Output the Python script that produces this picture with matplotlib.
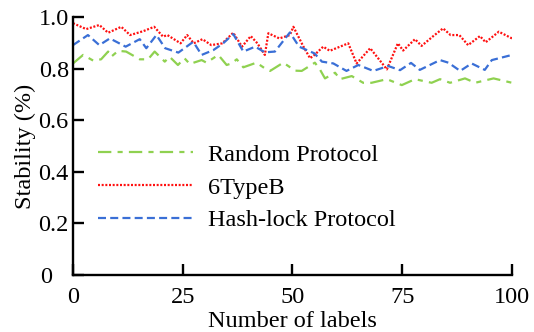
import numpy as np
import matplotlib.pyplot as plt
from matplotlib.transforms import ScaledTranslation

# Stability vs. number of labels for three protocols
x_random = [0, 2.3, 4.6, 6.4, 8, 8.7, 10.3, 12.1, 15.2, 17.1, 18.6, 20.9, 22, 23.9, 25.4,
            26.6, 29.3, 30.4, 33.1, 35, 36.1, 37.3, 38.8, 41.8, 43.7, 44.9, 47.9, 50.6,
            52.1, 55.1, 56.3, 57.4, 59.7, 60.8, 63.5, 66.1, 68, 71.5, 74.9, 77.9, 81.7,
            83.6, 85.9, 89.3, 91.6, 95.8, 100]
y_random = [0.820, 0.853, 0.831, 0.836, 0.866, 0.846, 0.869, 0.866, 0.836, 0.836, 0.866,
            0.827, 0.846, 0.814, 0.840, 0.818, 0.833, 0.823, 0.853, 0.814, 0.820, 0.836,
            0.805, 0.823, 0.801, 0.791, 0.823, 0.792, 0.791, 0.823, 0.795, 0.762, 0.784,
            0.759, 0.771, 0.745, 0.745, 0.759, 0.736, 0.759, 0.745, 0.759, 0.745, 0.762,
            0.745, 0.762, 0.745]

x_6typeb = [0, 3, 6, 8, 11, 13, 16, 18.5, 20.5, 21.5, 24.5, 26, 27.5, 29.5, 31.5, 34, 36.5,
            38.5, 40.5, 42, 43.7, 44.5, 47, 49.4, 50.2, 52.5, 54, 55, 57, 58.5, 62.7, 64.6,
            67.7, 71.5, 74, 75.2, 77.9, 79.4, 82, 84.3, 86, 88, 90, 92.7, 94, 97, 100]
y_6typeb = [0.976, 0.953, 0.969, 0.939, 0.962, 0.930, 0.945, 0.962, 0.924, 0.930, 0.898,
            0.930, 0.898, 0.914, 0.891, 0.898, 0.939, 0.885, 0.926, 0.898, 0.853, 0.937,
            0.917, 0.930, 0.962, 0.885, 0.840, 0.853, 0.885, 0.869, 0.898, 0.820, 0.879,
            0.797, 0.898, 0.870, 0.914, 0.888, 0.925, 0.956, 0.930, 0.930, 0.891, 0.926,
            0.902, 0.943, 0.917]

x_hash = [0, 3.4, 6, 8.4, 12, 15.2, 16.7, 19, 21, 24, 27.4, 29.3, 32, 34.2, 36.5, 38.8,
          41.5, 43.7, 46, 49.4, 51.5, 55, 56.7, 59.3, 62.3, 65, 68.4, 71.8, 74.5, 77, 79,
          83.6, 85.5, 88.2, 90.8, 93.8, 95.4, 100]
y_hash = [0.891, 0.930, 0.891, 0.917, 0.885, 0.914, 0.879, 0.930, 0.879, 0.862, 0.904,
          0.853, 0.872, 0.898, 0.934, 0.866, 0.885, 0.863, 0.866, 0.940, 0.885, 0.859,
          0.827, 0.820, 0.791, 0.814, 0.791, 0.810, 0.794, 0.822, 0.795, 0.833, 0.823,
          0.791, 0.820, 0.795, 0.833, 0.853]

xticks = [0, 25, 50, 75, 100]
yticks = [0, 0.2, 0.4, 0.6, 0.8, 1.0]
ytick_labels = ['0', '0.2', '0.4', '0.6', '0.8', '1.0']

plt.rcParams['font.family'] = ['Liberation Serif', 'DejaVu Serif']
plt.rcParams['font.size'] = 17.5

fig = plt.figure(figsize=(5.34, 3.32), dpi=100)
ax = fig.add_axes([0.1367, 0.1717, 0.8221, 0.7771])

ax.plot(x_random, y_random, color='#8fd150', lw=1.6,
        linestyle=(0, (6.0, 2.8, 2.3, 2.8)), label='Random Protocol')
ax.plot(x_6typeb, y_6typeb, color='#ff1010', lw=1.6,
        linestyle=(0, (0.9, 0.75)), label='6TypeB')
ax.plot(x_hash, y_hash, color='#3a6fd6', lw=1.6,
        linestyle=(0, (3.6, 1.9)), label='Hash-lock Protocol')

ax.set_xlim(0, 100)
ax.set_ylim(0, 1.0)
ax.set_xticks(xticks)
ax.set_yticks(yticks)
ax.set_yticklabels(ytick_labels)

for s in ['top', 'right']:
    ax.spines[s].set_visible(False)
for s in ['left', 'bottom']:
    ax.spines[s].set_linewidth(1.7)
ax.tick_params(direction='in', length=8, width=1.7)
ax.tick_params(axis='x', pad=9)
ax.tick_params(axis='y', pad=3)

# the zero on the y axis sits a bit further left
lbl0 = ax.get_yticklabels()[0]
lbl0.set_transform(lbl0.get_transform() + ScaledTranslation(-17 / 100, 0, fig.dpi_scale_trans))

ax.set_xlabel('Number of labels', labelpad=2)
ax.set_ylabel('Stability (%)', labelpad=2)

ax.legend(loc='upper left', bbox_to_anchor=(0.03, 0.555), frameon=False,
          handlelength=3.9, handletextpad=0.6, labelspacing=0.44, borderpad=0)

fig.savefig('out.png', dpi=100)
